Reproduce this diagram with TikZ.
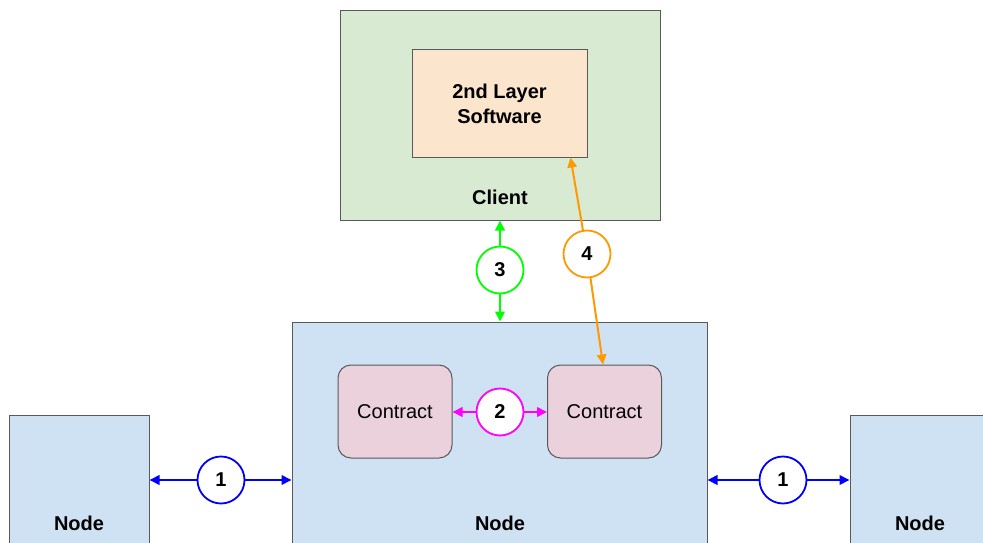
\documentclass[tikz,border=0pt]{standalone}
\usepackage{fontspec}
\setmainfont{Liberation Sans}
\usetikzlibrary{arrows.meta,calc}
\definecolor{clientfill}{HTML}{D9EAD3}
\definecolor{swfill}{HTML}{FCE5CD}
\definecolor{nodefill}{HTML}{CFE2F3}
\definecolor{contractfill}{HTML}{EAD1DC}
\definecolor{borderc}{HTML}{595959}
\definecolor{arrblue}{HTML}{0000FF}
\definecolor{arrmag}{HTML}{FF00FF}
\definecolor{arrgreen}{HTML}{00FF00}
\definecolor{arrorange}{HTML}{FF9900}
\tikzset{
  box/.style={draw=borderc, line width=1pt, inner sep=0pt},
  lbl/.style={font=\fontsize{20}{24}\selectfont\bfseries, inner sep=0pt},
  contractbox/.style={box, fill=contractfill, rounded corners=13pt, minimum width=114pt, minimum height=93pt, font=\fontsize{20}{24}\selectfont},
  numcircle/.style={draw=#1, fill=white, line width=1.8pt, circle, minimum size=47pt, inner sep=0pt, font=\fontsize{20}{24}\selectfont\bfseries},
  conn/.style={draw=#1, line width=2pt, -{Triangle[length=10pt,width=9.5pt]}},
}
\begin{document}
\begin{tikzpicture}[x=1pt,y=-1pt]
\useasboundingbox (0,0) rectangle (983,543);
\clip (0,0) rectangle (983,543);
% Client
\node[box, fill=clientfill, minimum width=320pt, minimum height=209pt] (client) at (500,115.5) {};
\node[box, fill=swfill, minimum width=175pt, minimum height=107pt, font=\fontsize{20}{25}\selectfont\bfseries, align=center] (sw) at (499.5,103.5) {2nd Layer\\Software};
\node[lbl] (clientlbl) at (500,197) {Client};
% Nodes
\node[box, fill=nodefill, minimum width=415pt, minimum height=260pt] (main) at (499.5,452) {};
\node[lbl] (mainlbl) at (500,523) {Node};
\node[box, fill=nodefill, minimum width=140pt, minimum height=160pt] (left) at (79,495) {};
\node[lbl] (leftlbl) at (79,523) {Node};
\node[box, fill=nodefill, minimum width=140pt, minimum height=160pt] (right) at (920,495) {};
\node[lbl] (rightlbl) at (920,523) {Node};
% Contracts
\node[contractbox] (ca) at (395,411.5) {Contract};
\node[contractbox] (cb) at (604.5,411.5) {Contract};
% Circles
\node[numcircle=arrblue] (c1a) at (221,480) {1};
\node[numcircle=arrblue] (c1b) at (783,480) {1};
\node[numcircle=arrmag] (c2) at (500,412) {2};
\node[numcircle=arrgreen] (c3) at (500,270) {3};
\node[numcircle=arrorange] (c4) at (587,254) {4};
% Connectors
\draw[conn=arrblue] (c1a) -- (c1a -| left.east);
\draw[conn=arrblue] (c1a) -- (c1a -| main.west);
\draw[conn=arrblue] (c1b) -- (c1b -| main.east);
\draw[conn=arrblue] (c1b) -- (c1b -| right.west);
\draw[conn=arrmag] (c2) -- (c2 -| ca.east);
\draw[conn=arrmag] (c2) -- (c2 -| cb.west);
\draw[conn=arrgreen] (c3) -- (c3 |- client.south);
\draw[conn=arrgreen] (c3) -- (c3 |- main.north);
\coordinate (swend) at ($(sw.south east)+(-17,0)$);
\coordinate (cbend) at ($(cb.north)+(-1.5,0)$);
\draw[conn=arrorange] (c4) -- (swend);
\draw[conn=arrorange] (c4) -- (cbend);
\end{tikzpicture}
\end{document}
